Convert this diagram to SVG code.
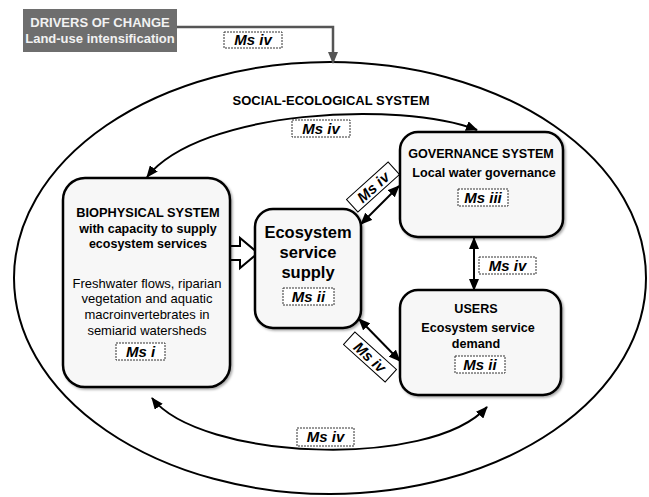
<svg xmlns="http://www.w3.org/2000/svg" width="649" height="497" viewBox="0 0 649 497">
<style>
.box{fill:#f7f7f7;stroke:#000;stroke-width:2.5}
.t{font-family:"Liberation Sans",Arial,sans-serif;text-anchor:middle;fill:#000}
.b{font-weight:bold}
.ms{fill:#fff;stroke:#333;stroke-width:1;stroke-dasharray:2 1}
.mst{font-family:"Liberation Sans",Arial,sans-serif;font-weight:bold;font-style:italic;font-size:15px;text-anchor:middle;fill:#000}
.con{fill:none;stroke:#000;stroke-width:2}
</style>
<defs>
<marker id="ah" viewBox="0 0 12 10" refX="11" refY="5" markerWidth="12" markerHeight="10" markerUnits="userSpaceOnUse" orient="auto-start-reverse">
<path d="M0,0 L12,5 L0,10 z" fill="#000"/>
</marker>
<marker id="ahg" viewBox="0 0 12 10" refX="11" refY="5" markerWidth="12" markerHeight="10" markerUnits="userSpaceOnUse" orient="auto">
<path d="M0,0 L12,5 L0,10 z" fill="#555"/>
</marker>
<filter id="sh" x="-10%" y="-10%" width="120%" height="120%">
<feDropShadow dx="1.5" dy="1.5" stdDeviation="1" flood-color="#000" flood-opacity="0.35"/>
</filter>
</defs>
<rect width="649" height="497" fill="#fff"/>

<g id="ses">
<ellipse cx="330" cy="278" rx="316" ry="216" fill="none" stroke="#000" stroke-width="2"/>
<text class="t b" x="331" y="105" font-size="13">SOCIAL-ECOLOGICAL SYSTEM</text>
</g>

<g id="drivers">
<rect x="23" y="9" width="154" height="43" fill="#6e6e6e"/>
<text class="t b" x="100" y="27" font-size="13" fill="#f2f2f2" style="fill:#f2f2f2">DRIVERS OF CHANGE</text>
<text class="t b" x="100" y="43" font-size="13" style="fill:#f2f2f2">Land-use intensification</text>
</g>

<g id="connectors">
<path d="M177,27 H333 V63" fill="none" stroke="#555" stroke-width="2.5" marker-end="url(#ahg)"/>
<path class="con" d="M147,177 C200,110 400,100 477,130" marker-start="url(#ah)" marker-end="url(#ah)"/>
<path class="con" d="M152,398 C200,460 430,470 487,407" marker-start="url(#ah)" marker-end="url(#ah)"/>
<path class="con" d="M474,238 V290" marker-start="url(#ah)" marker-end="url(#ah)"/>
<path class="con" d="M361,224 L399,186" marker-start="url(#ah)" marker-end="url(#ah)"/>
<path class="con" d="M359,319 L400,361" marker-start="url(#ah)" marker-end="url(#ah)"/>
<path d="M222,246 H240 V238 L258,253 L240,268 V260 H222 L229,253 Z" fill="#fff" stroke="#000" stroke-width="2"/>
<g id="lbl-drivers"><rect class="ms" x="224" y="32" width="58" height="16"/><text class="mst" x="253" y="45">Ms iv</text></g>
<g id="lbl-top"><rect class="ms" x="292" y="120" width="58" height="17"/><text class="mst" x="321" y="134">Ms iv</text></g>
<g id="lbl-gu"><rect class="ms" x="479" y="257" width="57" height="17"/><text class="mst" x="507.5" y="271">Ms iv</text></g>
<g id="lbl-bottom"><rect class="ms" x="297" y="428" width="57" height="18"/><text class="mst" x="325.5" y="442">Ms iv</text></g>
<g id="lbl-eg" transform="translate(373,187) rotate(-42)"><rect class="ms" x="-28" y="-8.5" width="56" height="17" style="stroke-dasharray:none;stroke:#000"/><text class="mst" x="0" y="5.5">Ms iv</text></g>
<g id="lbl-eu" transform="translate(370,357) rotate(42)"><rect class="ms" x="-28" y="-8.5" width="56" height="17" style="stroke-dasharray:none;stroke:#000"/><text class="mst" x="0" y="5.5">Ms iv</text></g>
</g>

<g id="biophysical">
<rect class="box" x="63" y="178" width="167" height="209" rx="22" filter="url(#sh)"/>
<text class="t b" x="148" y="217" font-size="12.8">BIOPHYSICAL SYSTEM</text>
<text class="t b" x="148" y="233" font-size="12.5">with capacity to supply</text>
<text class="t b" x="148" y="248" font-size="12.5">ecosystem services</text>
<text class="t" x="147" y="288" font-size="13">Freshwater flows, riparian</text>
<text class="t" x="147" y="303" font-size="13">vegetation and aquatic</text>
<text class="t" x="147" y="319" font-size="13">macroinvertebrates in</text>
<text class="t" x="147" y="335" font-size="13">semiarid watersheds</text>
<rect class="ms" x="116" y="343" width="49" height="17"/><text class="mst" x="140.5" y="357">Ms i</text>
</g>

<g id="ess">
<rect class="box" x="255" y="209" width="106" height="119" rx="18" filter="url(#sh)"/>
<text class="t b" x="308" y="238" font-size="16.5">Ecosystem</text>
<text class="t b" x="308" y="258" font-size="16.5">service</text>
<text class="t b" x="308" y="278" font-size="16.5">supply</text>
<rect class="ms" x="283" y="288" width="51" height="17"/><text class="mst" x="308.5" y="302">Ms ii</text>
</g>

<g id="governance">
<rect class="box" x="400" y="132" width="163" height="105" rx="18" filter="url(#sh)"/>
<text class="t b" x="481" y="158" font-size="12.6">GOVERNANCE SYSTEM</text>
<text class="t b" x="484" y="177" font-size="12.6">Local water governance</text>
<rect class="ms" x="458" y="189" width="50" height="17"/><text class="mst" x="483" y="203">Ms iii</text>
</g>

<g id="users">
<rect class="box" x="400" y="290" width="161" height="105" rx="18" filter="url(#sh)"/>
<text class="t b" x="476" y="313" font-size="12.6">USERS</text>
<text class="t b" x="478" y="332" font-size="12.6">Ecosystem service</text>
<text class="t b" x="476" y="348" font-size="12.6">demand</text>
<rect class="ms" x="455" y="356" width="50" height="17"/><text class="mst" x="480" y="370">Ms ii</text>
</g>
</svg>
